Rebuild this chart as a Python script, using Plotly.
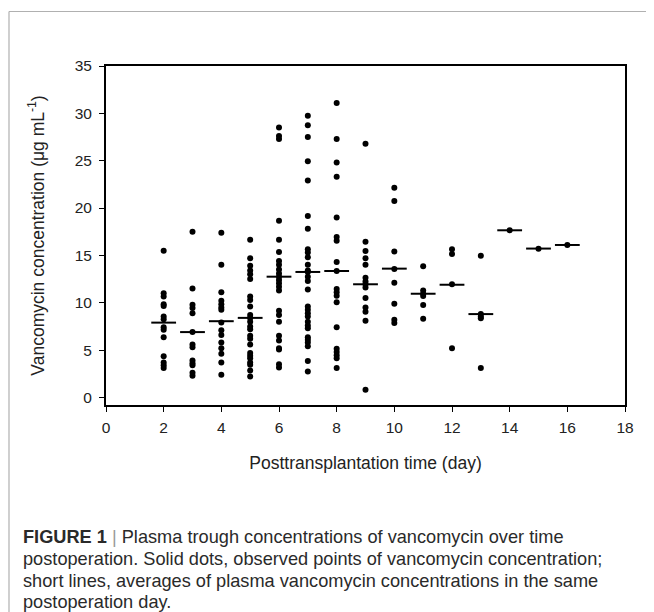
import plotly.graph_objects as go

# ---- data ----
days = [2, 3, 4, 5, 6, 7, 8, 9, 10, 11, 12, 13, 14, 15, 16]

conc_day2 = [15.5, 11.0, 10.65, 9.85, 9.65, 8.55, 8.25, 7.4, 7.15, 6.35, 4.35, 3.7, 3.4, 3.1]
conc_day3 = [17.5, 11.5, 9.8, 9.45, 8.9, 6.9, 5.6, 5.3, 3.9, 3.6, 3.4, 2.6, 2.3]
conc_day4 = [17.4, 14.0, 11.1, 10.2, 9.85, 9.5, 9.25, 7.9, 7.1, 6.6, 5.8, 5.2, 4.6, 3.7, 2.4]
conc_day5 = [16.65, 14.7, 13.9, 13.4, 13.0, 12.5, 10.65, 10.3, 9.6, 8.7, 8.4, 8.0, 7.5, 7.2,
             6.5, 6.2, 5.6, 4.7, 4.4, 4.15, 3.7, 3.45, 2.85, 2.2]
conc_day6 = [28.5, 27.6, 27.3, 18.65, 16.65, 15.35, 14.4, 14.0, 13.5, 13.1, 12.75, 12.4, 12.05,
             11.7, 11.3, 9.15, 8.7, 8.0, 6.5, 6.0, 5.2, 5.05, 3.5, 3.15]
conc_day7 = [29.75, 28.75, 27.5, 24.95, 22.9, 19.15, 17.8, 15.65, 15.3, 14.8, 14.0, 13.4, 13.25,
             12.75, 12.3, 11.4, 9.6, 9.25, 8.9, 8.55, 8.0, 7.6, 7.3, 6.35, 6.1, 5.8, 5.4, 3.85, 2.75]
conc_day8 = [31.1, 27.3, 24.8, 23.3, 19.0, 16.95, 16.55, 14.3, 13.35, 11.45, 11.1, 10.75, 10.05,
             7.4, 5.15, 4.8, 4.45, 4.15, 3.1]
conc_day9 = [26.8, 16.45, 15.45, 14.7, 14.0, 12.65, 12.25, 11.95, 11.6, 10.5, 9.5, 9.05, 8.1, 0.8]
conc_day10 = [22.15, 20.75, 15.4, 13.55, 12.1, 9.9, 8.2, 7.85]
conc_day11 = [13.85, 11.3, 10.95, 10.7, 9.75, 8.3]
conc_day12 = [15.65, 15.15, 11.95, 5.2]
conc_day13 = [14.95, 8.8, 8.55, 8.35, 3.1]
conc_day14 = [17.65]
conc_day15 = [15.7]
conc_day16 = [16.1]

daily_means = [7.9, 6.9, 8.05, 8.4, 12.75, 13.25, 13.35, 11.95, 13.6, 10.95, 11.9, 8.8, 17.65, 15.72, 16.1]

conc_by_day = [conc_day2, conc_day3, conc_day4, conc_day5, conc_day6, conc_day7, conc_day8,
               conc_day9, conc_day10, conc_day11, conc_day12, conc_day13, conc_day14,
               conc_day15, conc_day16]

x_ticks = [0, 2, 4, 6, 8, 10, 12, 14, 16, 18]
y_ticks = [0, 5, 10, 15, 20, 25, 30, 35]

x_title = "Posttransplantation time (day)"
y_title = "Vancomycin concentration (μg mL<sup>-1</sup>)"
caption_lines = [
    "<b>FIGURE 1</b> <span style='color:#999'>|</span> Plasma trough concentrations of vancomycin over time",
    "postoperation. Solid dots, observed points of vancomycin concentration;",
    "short lines, averages of plasma vancomycin concentrations in the same",
    "postoperation day.",
]

# ---- layout geometry (page pixels; the page body adds an 8 px offset) ----
OFF = 8
PAGE_W, PAGE_H = 654, 612
W, H = PAGE_W - OFF, PAGE_H - OFF
PLOT_L, PLOT_R, PLOT_T, PLOT_B = 106, 625, 66, 405   # page pixels
ML, MT = PLOT_L - OFF, PLOT_T - OFF
MR, MB = W - (PLOT_R - OFF), H - (PLOT_B - OFF)
PW, PH = PLOT_R - PLOT_L, PLOT_B - PLOT_T


def px_x(p):
    return (p - PLOT_L) / PW


def px_y(p):
    return (PLOT_B - p) / PH


pts_x, pts_y = [], []
for d, vals in zip(days, conc_by_day):
    pts_x += [d] * len(vals)
    pts_y += vals

half = 0.43
line_x, line_y = [], []
for d, m in zip(days, daily_means):
    line_x += [d - half, d + half, None]
    line_y += [m, m, None]

fig = go.Figure()
fig.add_trace(go.Scatter(x=line_x, y=line_y, mode="lines",
                         line=dict(color="black", width=2), showlegend=False,
                         hoverinfo="skip"))
fig.add_trace(go.Scatter(x=pts_x, y=pts_y, mode="markers",
                         marker=dict(color="black", size=6), showlegend=False))

FONT = "Liberation Sans, Arial, sans-serif"
axis_font = dict(family=FONT, size=15.5, color="#222")
title_font = dict(family=FONT, size=17.5, color="#222")
fig.update_xaxes(range=[0, 18], tickvals=x_ticks, ticks="outside", ticklen=5,
                 tickwidth=1.2, tickcolor="black", showline=True, linecolor="black",
                 linewidth=2, mirror=True, showgrid=False, zeroline=False,
                 tickfont=axis_font, ticklabelstandoff=2,
                 title=dict(text=x_title, font=title_font, standoff=22))
fig.update_yaxes(range=[-0.8, 35], tickvals=y_ticks, ticks="outside", ticklen=5,
                 tickwidth=1.2, tickcolor="black", showline=True, linecolor="black",
                 linewidth=2, mirror=True, showgrid=False, zeroline=False,
                 tickfont=axis_font, ticklabelstandoff=4,
                 title=dict(text=y_title, font=title_font, standoff=26))

# caption
cap_y = [537, 559, 581, 602]
for txt, yy in zip(caption_lines, cap_y):
    fig.add_annotation(text=txt, xref="paper", yref="paper", x=px_x(21), y=px_y(yy),
                       xanchor="left", yanchor="middle", showarrow=False, align="left",
                       font=dict(family=FONT, size=18.2, color="#2a2a2a"))

# light frame (top and left border of the figure panel)
fig.add_shape(type="line", xref="paper", yref="paper", x0=px_x(9), x1=px_x(PAGE_W + 5),
              y0=px_y(11.5), y1=px_y(11.5), line=dict(color="#b0b0b0", width=1.2))
fig.add_shape(type="line", xref="paper", yref="paper", x0=px_x(9), x1=px_x(9),
              y0=px_y(11.5), y1=px_y(PAGE_H + 5), line=dict(color="#b0b0b0", width=1.2))

fig.update_layout(width=W, height=H, margin=dict(l=ML, r=MR, t=MT, b=MB),
                  plot_bgcolor="white", paper_bgcolor="white")

fig.write_html("out.html")
